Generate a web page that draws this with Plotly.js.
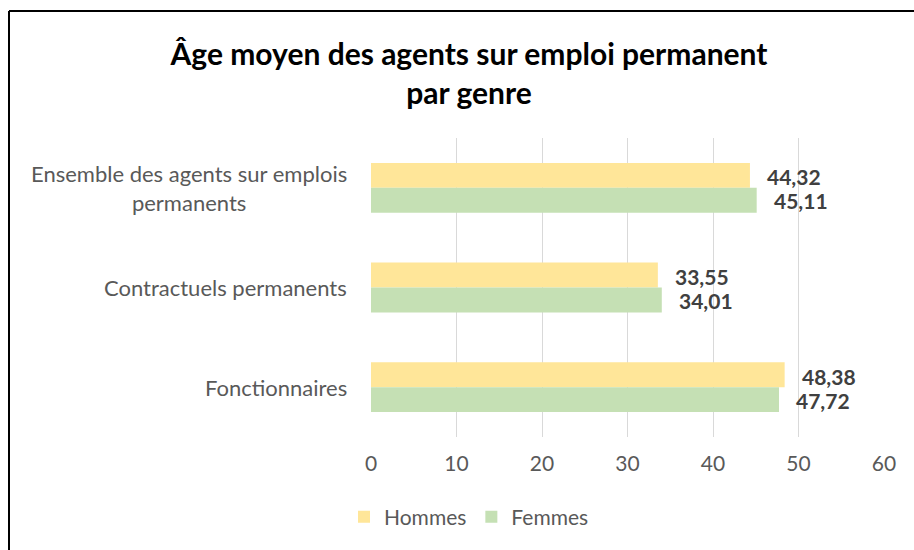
<!DOCTYPE html>
<html><head><meta charset="utf-8">
<script src="https://cdn.plot.ly/plotly-3.0.1.min.js"></script>
<style>html,body{margin:0;padding:0;background:#fff;}#chart{width:914px;height:550px;}</style>
</head><body><div id="chart"></div>
<script>
const categories = ["Ensemble des agents sur emplois<br>permanents", "Contractuels permanents", "Fonctionnaires"];
const hommes = [44.32, 33.55, 48.38];
const femmes = [45.11, 34.01, 47.72];
const seriesNames = ["Hommes", "Femmes"];
const xTicks = [0, 10, 20, 30, 40, 50, 60];
const titleText = "<b>Âge moyen des agents sur emploi permanent<br>par genre</b>";

const FONT = "Lato, 'Open Sans', sans-serif";
const fmt = v => v.toFixed(2).replace('.', ',');
const L = 371, R = 884, T = 138, B = 437;
const pw = R - L, ph = B - T;

const traces = [
  {type:'bar', orientation:'h', name:seriesNames[0], y:categories, x:hommes,
   marker:{color:'#FFE699'}, hoverinfo:'x'},
  {type:'bar', orientation:'h', name:seriesNames[1], y:categories, x:femmes,
   marker:{color:'#C5E0B4'}, hoverinfo:'x'}
];

const annotations = [];
categories.forEach((c, i) => {
  annotations.push({xref:'paper', yref:'y', x:0, y:c, xshift:-22, xanchor:'right', yanchor:'middle',
    align:'center', text:c, showarrow:false, font:{family:FONT, size:22, color:'#595959'}});
  annotations.push({xref:'x', yref:'y', x:hommes[i], y:c, xshift:15, yshift:11, xanchor:'left', yanchor:'middle',
    text:'<b>'+fmt(hommes[i])+'</b>', showarrow:false, font:{family:FONT, size:21, color:'#404040'}});
  annotations.push({xref:'x', yref:'y', x:femmes[i], y:c, xshift:15, yshift:-13, xanchor:'left', yanchor:'middle',
    text:'<b>'+fmt(femmes[i])+'</b>', showarrow:false, font:{family:FONT, size:21, color:'#404040'}});
});

const layout = {
  width:914, height:550,
  margin:{l:L, r:914-R, t:T, b:550-B},
  paper_bgcolor:'#fff', plot_bgcolor:'#fff',
  separators:',.',
  title:{text:titleText, x:469/914, xanchor:'center', y:1-65/550, yanchor:'top',
    font:{family:FONT, size:30, color:'#000'}},
  barmode:'group', bargap:0.5, bargroupgap:0,
  xaxis:{range:[0,60], tickvals:xTicks, ticktext:xTicks.map(String), showgrid:true, gridcolor:'#d9d9d9',
    gridwidth:1, zeroline:false, showline:false, ticks:'', ticklabelstandoff:12,
    tickfont:{family:FONT, size:21, color:'#595959'}, fixedrange:true},
  yaxis:{type:'category', autorange:'reversed', showticklabels:false, showgrid:false, zeroline:false,
    showline:false, ticks:'', fixedrange:true},
  showlegend:true,
  legend:{orientation:'h', x:(469-L)/pw, xanchor:'center', y:(B-517)/ph, yanchor:'middle',
    font:{family:FONT, size:21, color:'#595959'}, itemwidth:30, traceorder:'normal'},
  annotations:annotations,
  shapes:[
    {type:'line', xref:'paper', yref:'paper', x0:(9-L)/pw, x1:(914-L)/pw, y0:(B-11)/ph, y1:(B-11)/ph,
     line:{color:'#000', width:2}},
    {type:'line', xref:'paper', yref:'paper', x0:(9-L)/pw, x1:(9-L)/pw, y0:(B-11)/ph, y1:(B-550)/ph,
     line:{color:'#000', width:2}}
  ]
};
Plotly.newPlot('chart', traces, layout, {displayModeBar:false, staticPlot:true});
</script></body></html>
